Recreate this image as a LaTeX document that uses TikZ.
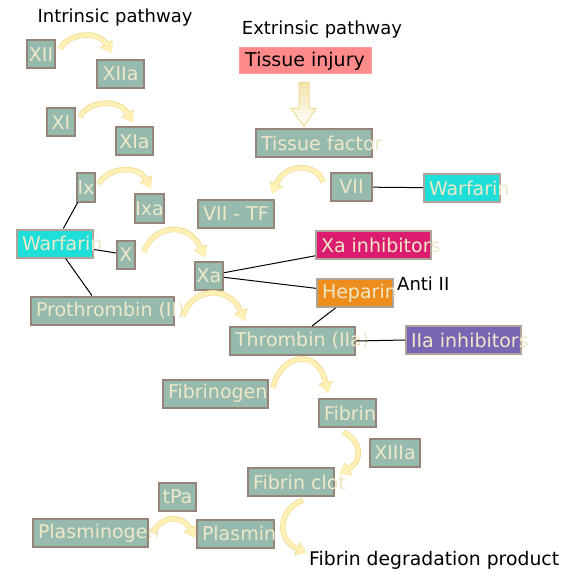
\documentclass[tikz,border=0pt]{standalone}
\usepackage{fontspec}
\setmainfont{DejaVu Sans}
\usepackage{xcolor}
\usepackage{tikz}
\usetikzlibrary{arrows.meta, calc}

\definecolor{boxfill}{RGB}{150,186,174}
\definecolor{boxedge}{RGB}{150,132,120}
\definecolor{boxtext}{RGB}{238,232,200}
\definecolor{warfcol}{RGB}{30,222,218}
\definecolor{xacol}{RGB}{220,28,112}
\definecolor{hepcol}{RGB}{238,140,28}
\definecolor{iiacol}{RGB}{120,102,180}
\definecolor{injcol}{RGB}{255,138,138}
\definecolor{flowfill}{RGB}{255,240,182}
\definecolor{flowedge}{RGB}{240,220,150}

% text that starts at the left and may run past the box
\newcommand{\spill}[2]{\makebox[#1pt][l]{\hspace{5pt}#2}}

\begin{document}
\begin{tikzpicture}[
  x=1pt, y=-1pt,
  box/.style   = {draw=boxedge, line width=2pt, fill=boxfill, text=boxtext,
                  minimum height=28pt, inner sep=0pt,
                  font=\fontsize{19}{22}\selectfont},
  drug/.style  = {box, draw=boxedge!75},
  title/.style = {inner sep=0pt, font=\fontsize{18}{22}\selectfont},
  link/.style  = {draw=black, line width=1pt},
  flow/.style  = {draw=flowfill, line width=4pt, -{Triangle[width=12pt,length=10pt]},
                  preaction={draw=flowedge, line width=5.5pt,
                             -{Triangle[width=14pt,length=11pt]}}}
]
\useasboundingbox (0,0) rectangle (564,585);

% ── Titles ───────────────────────────────────────────────────────────────────
\node[title, anchor=base] (intr) at (115,23) {Intrinsic pathway};
\node[title, anchor=base] (extr) at (322,35) {Extrinsic pathway};

% ── Intrinsic pathway ────────────────────────────────────────────────────────
\node[box, minimum width=28pt] (xii)  at (41,54.5)   {XII};
\node[box, minimum width=47pt] (xiia) at (120.5,74)  {XIIa};
\node[box, minimum width=28pt] (xi)   at (61,122.5)  {XI};
\node[box, minimum width=37pt] (xia)  at (134.5,141.5) {XIa};
\node[box, minimum width=18pt] (ix)   at (86,187.5)  {Ix};
\node[box, minimum width=27pt] (ixa)  at (149.5,208.5) {Ixa};
\node[drug, fill=warfcol] (warfl) at (55,243.5) {\spill{76}{Warfarin}};
\node[box, minimum width=18pt] (x)    at (126,254.5) {X};
\node[box] (pro) at (102.5,310.5) {\spill{143}{Prothrombin (II)}};

% ── Extrinsic pathway ────────────────────────────────────────────────────────
\node[box, draw=injcol!85!white, line width=1pt, fill=injcol, text=black,
      minimum width=132pt, minimum height=26pt] (inj) at (305,61) {Tissue injury};
\node[box] (tf) at (314,143.5) {\spill{116}{Tissue factor}};
\node[box, minimum width=41pt] (vii)  at (351.5,187) {VII};
\node[drug, fill=warfcol] (warfr) at (462,188) {\spill{76}{Warfarin}};
\node[box, minimum width=76pt] (viitf) at (236,214) {VII - TF};

% ── Common pathway ───────────────────────────────────────────────────────────
\node[box, minimum width=28pt] (xa) at (209,275.5) {Xa};
\node[drug, fill=xacol]  (xainh)  at (373.5,245) {\spill{115}{Xa inhibitors}};
\node[drug, fill=hepcol] (hep)    at (355,293)   {\spill{76}{Heparin}};
\node[title, anchor=base west] (anti) at (397,290) {Anti II};
\node[box] (thr) at (292.5,341) {\spill{125}{Thrombin (IIa)}};
\node[drug, fill=iiacol] (iiainh) at (463.5,340) {\spill{115}{IIa inhibitors}};
\node[box] (fibg) at (215.5,393.5) {\spill{105}{Fibrinogen}};
\node[box] (fib)  at (347.5,413)   {\spill{57}{Fibrin}};
\node[box, minimum width=50pt] (xiiia) at (395,453) {XIIIa};
\node[box] (clot) at (291,482) {\spill{86}{Fibrin clot}};

% ── Fibrinolysis ─────────────────────────────────────────────────────────────
\node[box, minimum width=37pt] (tpa) at (177.5,497) {tPa};
\node[box] (plg) at (90.5,533)  {\spill{115}{Plasminogen}};
\node[box] (plm) at (235.5,533.5) {\spill{77}{Plasmin}};
\node[title, anchor=base west, font=\fontsize{18.8}{22}\selectfont]
  (fdp) at (309,565) {Fibrin degradation product};

% ── Inhibitor links ──────────────────────────────────────────────────────────
\draw[link] (ix) -- (warfl);
\draw[link] (warfl) -- (x);
\draw[link] (warfl) -- (pro);
\draw[link] (vii) -- (warfr);
\draw[link] (xa) -- (xainh);
\draw[link] (xa) -- (hep);
\draw[link] (hep) -- (thr);
\draw[link] (thr.east) -- (iiainh.west);

% ── Activation arrows ────────────────────────────────────────────────────────
\draw[flow] ($(xii.east)+(4,-5.5)$) .. controls +(8,-16) and +(-14,-23) .. ($(xiia.north)+(-8.5,-6)$);
\draw[flow] ($(xi.east)+(4,-5.5)$) .. controls +(8,-16) and +(-15,-25) .. ($(xia.north)+(-1.5,-4)$);
\draw[flow] ($(ix.east)+(3,-3.5)$) .. controls +(8,-16) and +(-14,-25) .. ($(ixa.north)+(1.5,-5)$);
\draw[flow] ($(x.east)+(8,-2.5)$) .. controls +(8,-26) and +(-17,-38) .. ($(xa.north)+(-4,-3)$);
\draw[flow] ($(pro.east)+(8,5.5)$) .. controls +(8,-28) and +(-16,-37) .. ($(thr.north west)+(16,-5)$);
\draw[flow] ($(vii.west)+(-7,-5)$) .. controls +(-5.5,-18) and +(14,-33) .. ($(viitf.north east)+(-3,-5)$);
\draw[flow] ($(fibg.east)+(4,-5.5)$) .. controls +(6,-32) and +(-11,-48) .. ($(fib.north west)+(10,-5)$);
\draw[flow] ($(fib.south)+(-4.5,4)$) .. controls +(19,9) and +(24,-13) .. ($(clot.north east)+(4,7)$);
\draw[flow] ($(plg.east)+(4,0)$) .. controls +(6,-15) and +(-14,-26) .. ($(plm.west)+(-1,4.5)$);
\draw[flow] ($(clot.south)+(12,3)$) .. controls +(-27,11) and +(-29,-12) .. ($(fdp.west)+(-2,-7)$);

% ── Injury arrow ─────────────────────────────────────────────────────────────
\draw[flowedge, line width=1pt, top color=flowedge!80, bottom color=white]
  ($(inj.south)+(-6,8)$) -- ++(10,0) -- ++(0,26) -- ++(7,0) -- ++(-12,18)
  -- ++(-13,-18) -- ++(8,0) -- cycle;

\end{tikzpicture}
\end{document}
